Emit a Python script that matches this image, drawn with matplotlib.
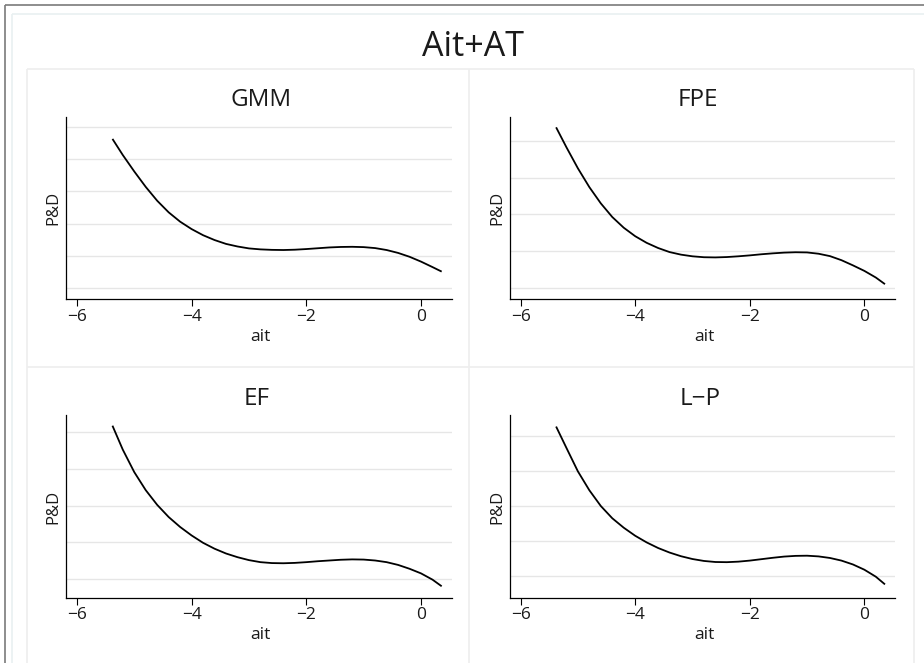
import matplotlib
matplotlib.use("Agg")
import matplotlib.pyplot as plt
from matplotlib.lines import Line2D

plt.rcParams['font.family'] = ['Open Sans', 'DejaVu Sans']

W, H = 924, 663
main_title = "Ait+AT"
panel_titles = ["GMM", "FPE", "EF", "L\u2212P"]
x_label = "ait"
y_label = "P&D"
x_ticks = [-6, -4, -2, 0]
x_tick_labels = ["\u22126", "\u22124", "\u22122", "0"]

ait = [-5.38, -5.2, -5.0, -4.8, -4.6, -4.4, -4.2, -4.0, -3.8, -3.6,
       -3.4, -3.2, -3.0, -2.8, -2.6, -2.4, -2.2, -2.0, -1.8, -1.6,
       -1.4, -1.2, -1.0, -0.8, -0.6, -0.4, -0.2, 0.0, 0.2, 0.36]

gmm_y = [4.63, 4.13, 3.62, 3.14, 2.71, 2.35, 2.06, 1.83, 1.64, 1.49,
         1.37, 1.29, 1.23, 1.20, 1.185, 1.18, 1.19, 1.21, 1.235, 1.26,
         1.275, 1.28, 1.27, 1.24, 1.18, 1.09, 0.97, 0.82, 0.65, 0.51]

fpe_y = [4.36, 3.82, 3.25, 2.74, 2.30, 1.93, 1.64, 1.41, 1.23, 1.09,
         0.98, 0.91, 0.865, 0.84, 0.835, 0.845, 0.865, 0.89, 0.92, 0.945,
         0.965, 0.975, 0.97, 0.935, 0.87, 0.76, 0.62, 0.47, 0.29, 0.11]

ef_y = [4.17, 3.52, 2.91, 2.42, 2.02, 1.69, 1.42, 1.19, 0.99, 0.83,
        0.70, 0.60, 0.52, 0.465, 0.44, 0.435, 0.445, 0.465, 0.49, 0.51,
        0.53, 0.54, 0.535, 0.51, 0.465, 0.39, 0.285, 0.16, -0.01, -0.19]

lp_y = [4.26, 3.65, 2.98, 2.44, 1.99, 1.64, 1.37, 1.14, 0.95, 0.79,
        0.66, 0.555, 0.475, 0.42, 0.39, 0.385, 0.40, 0.43, 0.47, 0.51,
        0.545, 0.565, 0.57, 0.55, 0.505, 0.43, 0.32, 0.17, -0.03, -0.25]

grid_gmm = [0, 1, 2, 3, 4, 5]
grid_other = [0, 1, 2, 3, 4]

series = [
    (gmm_y, grid_gmm, (-0.35, 5.31)),
    (fpe_y, grid_other, (-0.30, 4.64)),
    (ef_y, grid_other, (-0.50, 4.46)),
    (lp_y, grid_other, (-0.63, 4.59)),
]

# axes boxes in pixels: left, top, right, bottom
boxes = [
    (66.0, 117.0, 452.0, 299.3),
    (509.7, 117.0, 895.3, 299.3),
    (66.0, 415.0, 452.0, 597.7),
    (509.7, 415.0, 895.3, 597.7),
]
title_pos = [(261, 106), (698, 106), (257, 405), (700, 405)]
xlab_pos = [(260, 341), (704, 341), (260, 639), (704, 639)]
ylab_pos = [(53.5, 208), (497, 208), (53.5, 506.5), (497, 506.5)]

fig = plt.figure(figsize=(W / 100, H / 100), dpi=100)
fig.patch.set_facecolor("white")


def fx(x):
    return x / W


def fy(y):
    return 1 - y / H


def hline(x0, x1, y, color, lw):
    fig.add_artist(Line2D([fx(x0), fx(x1)], [fy(y), fy(y)], transform=fig.transFigure,
                          color=color, lw=lw, solid_capstyle="butt"))


def vline(x, y0, y1, color, lw):
    fig.add_artist(Line2D([fx(x), fx(x)], [fy(y0), fy(y1)], transform=fig.transFigure,
                          color=color, lw=lw, solid_capstyle="butt"))


# outer frame (cropped)
hline(5, W, 4.7, "#7a7a7a", 1.2)
vline(5.2, 4.7, H, "#7a7a7a", 1.2)
# light region frame
hline(11.5, W, 14, "#e9f0f1", 1.2)
vline(11.5, 14, H, "#e9f0f1", 1.2)
# panel frames
light = "#eeeeee"
hline(26.7, 914, 69, light, 1.2)
hline(26.7, 914, 366.5, light, 1.2)
vline(26.7, 69, H, light, 1.2)
vline(469.5, 69, H, light, 1.2)
vline(914, 69, H, light, 1.2)

fig.text(fx(473), fy(55.7), main_title, ha="center", va="baseline",
         fontsize=24.5, color="#1a1a1a")

for i, ((ys, grid, ylim), (l, t, r, b)) in enumerate(zip(series, boxes)):
    ax = fig.add_axes([fx(l), fy(b), fx(r) - fx(l), fy(t) - fy(b)])
    ax.set_facecolor("white")
    ax.plot(ait, ys, color="black", lw=1.3, solid_joinstyle="round",
            solid_capstyle="butt")
    ax.set_xlim(-6.19, 0.54)
    ax.set_ylim(*ylim)
    ax.set_yticks(grid)
    ax.set_yticklabels([])
    ax.tick_params(axis="y", length=0)
    ax.yaxis.grid(True, color="#e6e6e6", lw=1.0)
    ax.set_axisbelow(True)
    ax.set_xticks(x_ticks)
    ax.set_xticklabels(x_tick_labels, fontsize=12.5, color="#1a1a1a")
    ax.tick_params(axis="x", length=5, width=0.8, pad=2, color="black")
    for s in ["top", "right"]:
        ax.spines[s].set_visible(False)
    for s in ["left", "bottom"]:
        ax.spines[s].set_linewidth(0.9)
        ax.spines[s].set_color("black")
    tx, ty = title_pos[i]
    fig.text(fx(tx), fy(ty), panel_titles[i], ha="center", va="baseline",
             fontsize=17.5, color="#1a1a1a")
    lx, ly = xlab_pos[i]
    fig.text(fx(lx), fy(ly), x_label, ha="center", va="baseline",
             fontsize=12.5, color="#1a1a1a")
    yx, yy = ylab_pos[i]
    fig.text(fx(yx), fy(yy), y_label, ha="center", va="center", rotation=90,
             fontsize=12, color="#1a1a1a")

fig.savefig("out.png", dpi=100, facecolor="white")
